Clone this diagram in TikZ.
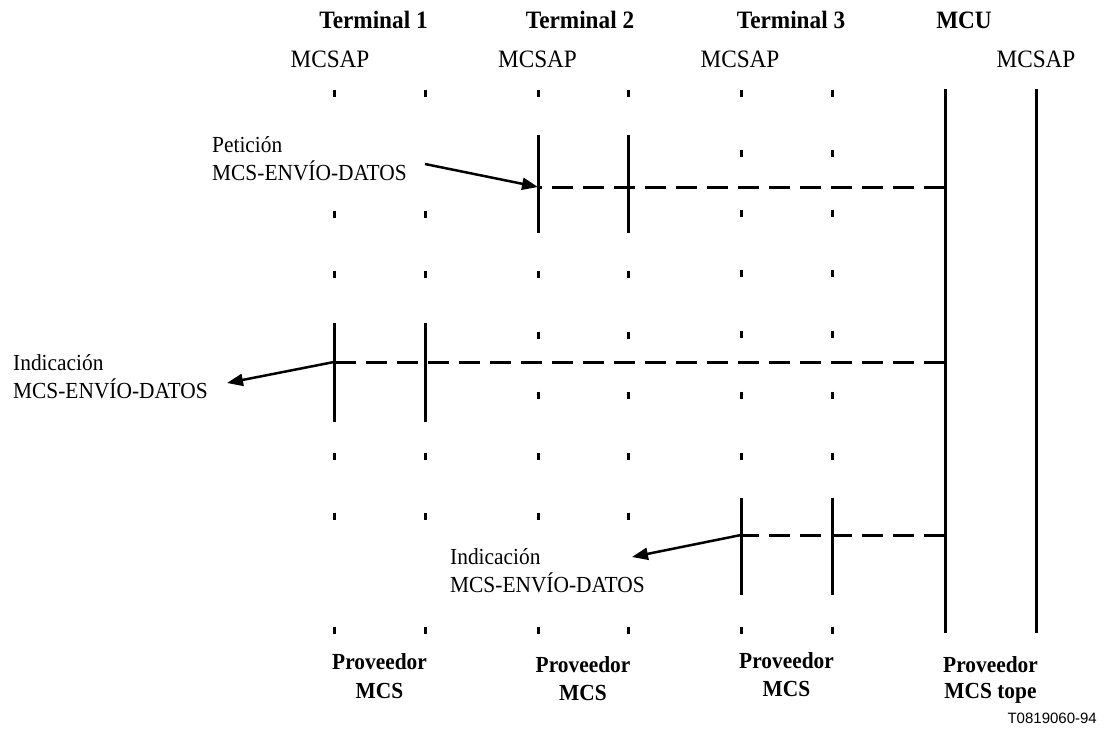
\documentclass[tikz,border=0pt]{standalone}
\usepackage{fontspec}
\setmainfont{Liberation Serif}[FakeStretch=0.93]
\newfontfamily\codefont{Liberation Sans}
\usetikzlibrary{arrows.meta}
\begin{document}
\begin{tikzpicture}[x=1pt,y=-1pt,
  life/.style={line width=3pt},
  tickmark/.style={line width=3pt},
  msg/.style={line width=3pt, dash pattern=on 21pt off 10pt},
  arr/.style={line width=2.5pt,-{Triangle[length=16pt,width=12pt]}},
  head/.style={font=\fontsize{25}{30}\selectfont\bfseries, inner sep=0pt, anchor=base},
  sap/.style={font=\fontsize{25}{30}\selectfont, inner sep=0pt, anchor=base},
  lbl/.style={font=\fontsize{23}{28}\selectfont, inner sep=0pt, anchor=base west},
  prov/.style={font=\fontsize{23}{29}\selectfont\bfseries, inner sep=0pt, anchor=base},
  code/.style={font=\codefont\fontsize{15}{18}\selectfont, inner sep=0pt, anchor=base east},
]
\useasboundingbox (0,0) rectangle (1105,731);

% headers
\node[head] (h1) at (373.5,28) {Terminal 1};
\node[head] (h2) at (580,28) {Terminal 2};
\node[head] (h3) at (791,28) {Terminal 3};
\node[head] (h4) at (964,28) {MCU};
\node[sap] (s1) at (330,67) {MCSAP};
\node[sap] (s2) at (537.5,67) {MCSAP};
\node[sap] (s3) at (740,67) {MCSAP};
\node[sap] (s4) at (1036,67) {MCSAP};

% tick marks
\foreach \yy in {93,214,274,456,516,630}{
  \draw[tickmark] (334,\yy-3.5) -- (334,\yy+3.5);
  \draw[tickmark] (425,\yy-3.5) -- (425,\yy+3.5);
}
\foreach \yy in {93,274,335,395,456,516,630}{
  \draw[tickmark] (538,\yy-3.5) -- (538,\yy+3.5);
  \draw[tickmark] (628,\yy-3.5) -- (628,\yy+3.5);
}
\foreach \yy in {93,153,213,273,334,395,456,630}{
  \draw[tickmark] (741,\yy-3.5) -- (741,\yy+3.5);
  \draw[tickmark] (832,\yy-3.5) -- (832,\yy+3.5);
}

% solid activation segments
\draw[life] (538,135) -- (538,233);
\draw[life] (628,135) -- (628,233);
\draw[life] (334,323) -- (334,422);
\draw[life] (425,323) -- (425,422);
\draw[life] (741,498) -- (741,595);
\draw[life] (832,498) -- (832,595);
\draw[life] (945,89) -- (945,633);
\draw[life] (1036,89) -- (1036,633);

% coordinates
\coordinate (m1) at (945,187);
\coordinate (t2) at (538,187);
\coordinate (m2) at (945,362);
\coordinate (t1) at (334,362);
\coordinate (m3) at (945,535);
\coordinate (t3) at (741,535);
\coordinate (a1s) at (425,164);
\coordinate (a2e) at (227,383);
\coordinate (a3e) at (632,557);

% dashed messages
\draw[msg] (m1) -- (t2);
\draw[msg] (m2) -- (t1);
\draw[msg] (m3) -- (t3);

% labels
\node[lbl] (p1) at (212,152) {Petición};
\node[lbl] (p2) at (212,180) {MCS-ENVÍO-DATOS};
\node[lbl] (i1) at (13,370) {Indicación};
\node[lbl] (i2) at (13,398) {MCS-ENVÍO-DATOS};
\node[lbl] (j1) at (450,564) {Indicación};
\node[lbl] (j2) at (450,592) {MCS-ENVÍO-DATOS};

% arrows
\draw[arr] (a1s) -- (t2);
\draw[arr] (t1) -- (a2e);
\draw[arr] (t3) -- (a3e);

% bottom labels
\node[prov] (b1) at (379.5,669) {Proveedor};
\node[prov] (b1b) at (379.5,698) {MCS};
\node[prov] (b2) at (583,672) {Proveedor};
\node[prov] (b2b) at (583,700) {MCS};
\node[prov] (b3) at (786.5,668) {Proveedor};
\node[prov] (b3b) at (786.5,696) {MCS};
\node[prov] (b4) at (990.5,672) {Proveedor};
\node[prov] (b4b) at (990.5,698) {MCS tope};
\node[code] (c) at (1097,723) {T0819060-94};
\end{tikzpicture}
\end{document}
